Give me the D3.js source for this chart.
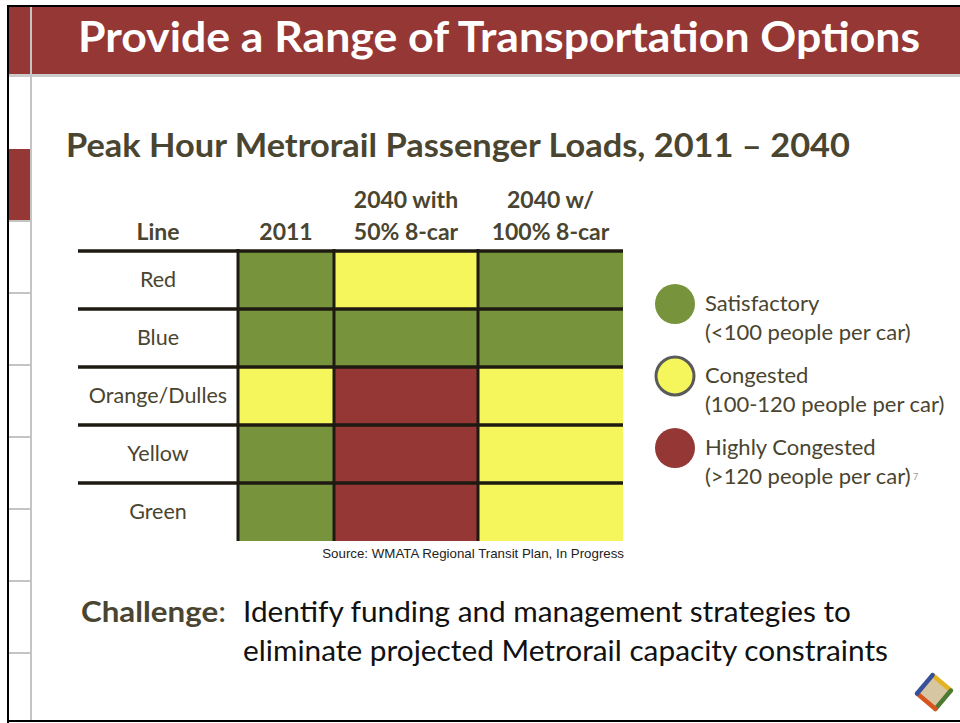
<!DOCTYPE html>
<html>
<head>
<meta charset="utf-8">
<script src="https://cdn.jsdelivr.net/npm/d3@7"></script>
<style>
  body { margin: 0; background: #fff; }
  svg { display: block; }
</style>
</head>
<body>
<svg id="slide"></svg>
<script>
'use strict'

// table data: metro lines, scenarios and load status (S = satisfactory, C = congested, H = highly congested)
const lines = ['Red', 'Blue', 'Orange/Dulles', 'Yellow', 'Green']
const scenarios = ['2011', '2040 with 50% 8-car', '2040 w/ 100% 8-car']
const scenarioLabels = [['2011'], ['2040 with', '50% 8-car'], ['2040 w/', '100% 8-car']]
const status2011 = ['S', 'S', 'C', 'S', 'S']
const status2040half = ['C', 'S', 'H', 'H', 'H']
const status2040full = ['S', 'S', 'C', 'C', 'C']
const statusKeys = ['S', 'C', 'H']
const statusNames = ['Satisfactory', 'Congested', 'Highly Congested']
const statusRanges = ['(<100 people per car)', '(100-120 people per car)', '(>120 people per car)']

const W = 960, H = 723
const font = 'Lato, "Open Sans", sans-serif'
const textColor = '#4a4530'

const svg = d3.select('#slide').attr('width', W).attr('height', H)

// slide frame and header band
svg.append('rect').attr('x', 9).attr('y', 7).attr('width', W - 9).attr('height', 67).attr('fill', '#953735')
svg.append('rect').attr('x', 9).attr('y', 74).attr('width', W - 9).attr('height', 3).attr('fill', '#cbcbcb')
svg.append('rect').attr('x', 7).attr('y', 5).attr('width', W - 7).attr('height', 2).attr('fill', '#000')
svg.append('rect').attr('x', 7).attr('y', 5).attr('width', 2).attr('height', H - 5).attr('fill', '#000')
svg.append('rect').attr('x', 7).attr('y', 720).attr('width', W - 7).attr('height', 2).attr('fill', '#000')
svg.append('rect').attr('x', 9).attr('y', 149).attr('width', 21).attr('height', 71).attr('fill', '#953735')
svg.selectAll('.tab').data([220, 292, 364, 436, 508, 580, 652]).enter().append('rect')
  .attr('x', 9).attr('y', d => d).attr('width', 21).attr('height', 2).attr('fill', '#c4c4c4')
svg.append('rect').attr('x', 30).attr('y', 7).attr('width', 2).attr('height', 713).attr('fill', '#c4c4c4')

// titles
svg.append('text').text('Provide a Range of Transportation Options')
  .attr('x', 78).attr('y', 52).attr('textLength', 842).attr('lengthAdjust', 'spacingAndGlyphs')
  .attr('font-family', font).attr('font-weight', 700).attr('font-size', 42).attr('fill', '#fff')
svg.append('text').text('Peak Hour Metrorail Passenger Loads, 2011 \u2013 2040')
  .attr('x', 66).attr('y', 157).attr('textLength', 784).attr('lengthAdjust', 'spacingAndGlyphs')
  .attr('font-family', font).attr('font-weight', 700).attr('font-size', 32).attr('fill', textColor)

// scales
const y = d3.scaleBand().domain(lines).range([251, 541]).padding(0)
const colX = d3.scaleLinear().domain([0, 1, 2, 3]).range([238, 334, 478, 623])
const color = d3.scaleOrdinal().domain(statusKeys).range(['#77933c', '#f4f65c', '#953735'])

const columns = [status2011, status2040half, status2040full]
const cells = []
columns.forEach((col, ci) => col.forEach((s, ri) => cells.push({ col: ci, line: lines[ri], status: s })))

const table = svg.append('g')
table.selectAll('rect.cell').data(cells).enter().append('rect')
  .attr('class', 'cell')
  .attr('x', d => colX(d.col))
  .attr('y', d => y(d.line))
  .attr('width', d => colX(d.col + 1) - colX(d.col))
  .attr('height', y.bandwidth())
  .attr('fill', d => color(d.status))

// grid lines
table.selectAll('line.h').data(lines).enter().append('line')
  .attr('x1', 78).attr('x2', colX(3))
  .attr('y1', d => y(d)).attr('y2', d => y(d))
  .attr('stroke', '#1e1a12').attr('stroke-width', 3.5)
table.selectAll('line.v').data(scenarios).enter().append('line')
  .attr('x1', (d, i) => colX(i)).attr('x2', (d, i) => colX(i))
  .attr('y1', y(lines[0]) - 2).attr('y2', y.range()[1])
  .attr('stroke', '#1e1a12').attr('stroke-width', 3)

// row labels
table.selectAll('text.row').data(lines).enter().append('text')
  .attr('x', 158).attr('y', d => y(d) + y.bandwidth() / 2 + 7)
  .attr('text-anchor', 'middle')
  .attr('font-family', font).attr('font-size', 21.5).attr('fill', textColor)
  .text(d => d)

// column headers
table.append('text').text('Line')
  .attr('x', 158).attr('y', 240).attr('text-anchor', 'middle')
  .attr('font-family', font).attr('font-weight', 700).attr('font-size', 23).attr('fill', textColor)
scenarioLabels.forEach((lab, i) => {
  const cx = (colX(i) + colX(i + 1)) / 2
  lab.forEach((t, k) => {
    table.append('text').text(t)
      .attr('x', cx).attr('y', 240 - (lab.length - 1 - k) * 32)
      .attr('text-anchor', 'middle')
      .attr('font-family', font).attr('font-weight', 700).attr('font-size', 23).attr('fill', textColor)
  })
})

svg.append('text').text('Source: WMATA Regional Transit Plan, In Progress')
  .attr('x', 624).attr('y', 558).attr('text-anchor', 'end')
  .attr('font-family', '"Liberation Sans", Arial, sans-serif').attr('font-size', 13.3).attr('fill', '#222')

// legend
const legend = svg.append('g')
const ly = d3.scaleBand().domain(statusKeys).range([268, 484])
statusKeys.forEach((k, i) => {
  const cy = ly(k) + ly.bandwidth() / 2
  legend.append('circle').attr('cx', 675).attr('cy', cy).attr('r', k === 'C' ? 19 : 20)
    .attr('fill', color(k))
    .attr('stroke', k === 'C' ? '#5a5a5a' : 'none').attr('stroke-width', 3)
  legend.append('text').text(statusNames[i]).attr('x', 705).attr('y', cy + 7)
    .attr('font-family', font).attr('font-size', 22).attr('fill', textColor)
  legend.append('text').text(statusRanges[i]).attr('x', 705).attr('y', cy + 36)
    .attr('font-family', font).attr('font-size', 22).attr('fill', textColor)
})
// slide number
svg.append('text').text('7').attr('x', 913).attr('y', 480)
  .attr('font-family', font).attr('font-size', 9).attr('fill', '#999')

// challenge text
const ch = svg.append('text').attr('x', 81).attr('y', 622)
  .attr('textLength', 145).attr('lengthAdjust', 'spacingAndGlyphs')
  .attr('font-family', font).attr('font-size', 29).attr('fill', textColor)
ch.append('tspan').attr('font-weight', 700).text('Challenge')
ch.append('tspan').text(':')
svg.append('text').text('Identify funding and management strategies to')
  .attr('x', 243).attr('y', 622).attr('textLength', 608).attr('lengthAdjust', 'spacingAndGlyphs')
  .attr('font-family', font).attr('font-size', 28).attr('fill', '#111')
svg.append('text').text('eliminate projected Metrorail capacity constraints')
  .attr('x', 243).attr('y', 661).attr('textLength', 645).attr('lengthAdjust', 'spacingAndGlyphs')
  .attr('font-family', font).attr('font-size', 28).attr('fill', '#111')

// logo
const logo = svg.append('g').attr('transform', 'translate(934,692) rotate(40)')
logo.append('rect').attr('x', -11).attr('y', -11).attr('width', 22).attr('height', 22).attr('fill', '#d7c6a2')
const s = 12
const edges = [
  [[-s, -s], [s, -s], '#e3b324'],
  [[s, -s], [s, s], '#4c7a34'],
  [[s, s], [-s, s], '#d6541f'],
  [[-s, s], [-s, -s], '#37509a']
]
edges.forEach(e => logo.append('line')
  .attr('x1', e[0][0]).attr('y1', e[0][1]).attr('x2', e[1][0]).attr('y2', e[1][1])
  .attr('stroke', e[2]).attr('stroke-width', 4.5).attr('stroke-linecap', 'round'))
</script>
</body>
</html>
